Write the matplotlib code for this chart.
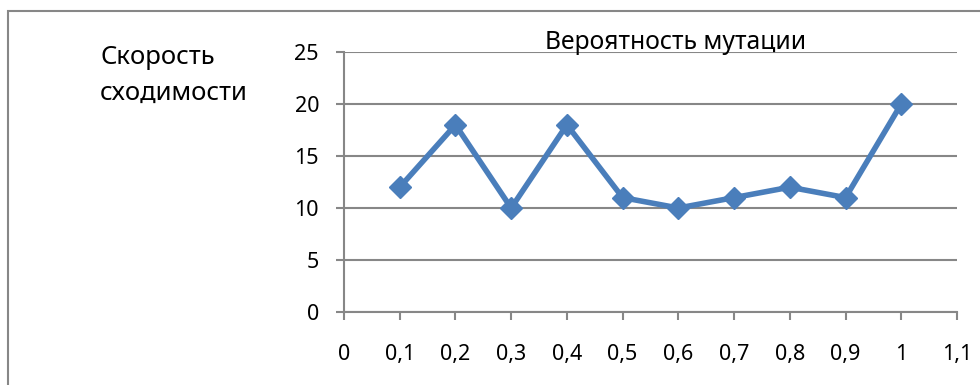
import matplotlib.pyplot as plt
from matplotlib.patches import Rectangle

plt.rcParams['font.family'] = ['Noto Sans', 'DejaVu Sans']

# данные
x_vals = [0.1, 0.2, 0.3, 0.4, 0.5, 0.6, 0.7, 0.8, 0.9, 1.0]
y_vals = [12, 18, 10, 18, 11, 10, 11, 12, 11, 20]
x_ticks = [0, 0.1, 0.2, 0.3, 0.4, 0.5, 0.6, 0.7, 0.8, 0.9, 1.0, 1.1]
x_labels = ['0', '0,1', '0,2', '0,3', '0,4', '0,5', '0,6', '0,7', '0,8', '0,9', '1', '1,1']
y_ticks = [0, 5, 10, 15, 20, 25]

grid_col = '#878787'
line_col = '#4A7EBB'
fs = 15.5

fig = plt.figure(figsize=(9.8, 3.85), dpi=100)
ax = fig.add_axes([344 / 980, 73 / 385, 613 / 980, 260 / 385])

# рамка вокруг диаграммы
fig.patches.append(Rectangle((8 / 980, -0.1), 1.2, (385 - 11) / 385 + 0.1,
                             transform=fig.transFigure, fill=False,
                             edgecolor=grid_col, linewidth=1.5))

ax.plot(x_vals, y_vals, color=line_col, linewidth=4, marker='D',
        markersize=11, markerfacecolor=line_col, markeredgecolor=line_col,
        clip_on=False, zorder=3)

ax.set_xlim(0, 1.1)
ax.set_ylim(0, 25)
ax.set_xticks(x_ticks)
ax.set_xticklabels(x_labels)
ax.set_yticks(y_ticks)

for side in ['top', 'right']:
    ax.spines[side].set_visible(False)
for side in ['left', 'bottom']:
    ax.spines[side].set_color(grid_col)
    ax.spines[side].set_linewidth(1.5)

ax.yaxis.grid(True, color=grid_col, linewidth=1.5)
ax.set_axisbelow(True)
ax.tick_params(axis='both', colors=grid_col, labelcolor='black',
               labelsize=fs, width=1.5, length=6)
ax.tick_params(axis='x', pad=17)
ax.tick_params(axis='y', pad=12)

fig.text(545 / 980, 1 - 49 / 385, 'Вероятность мутации', fontsize=17.8,
         ha='left', va='baseline')
fig.text(100 / 980, 1 - 64 / 385, 'Скорость', fontsize=18.5,
         ha='left', va='baseline')
fig.text(100 / 980, 1 - 100 / 385, 'сходимости', fontsize=18.5,
         ha='left', va='baseline')

fig.savefig('out.png', dpi=100)
